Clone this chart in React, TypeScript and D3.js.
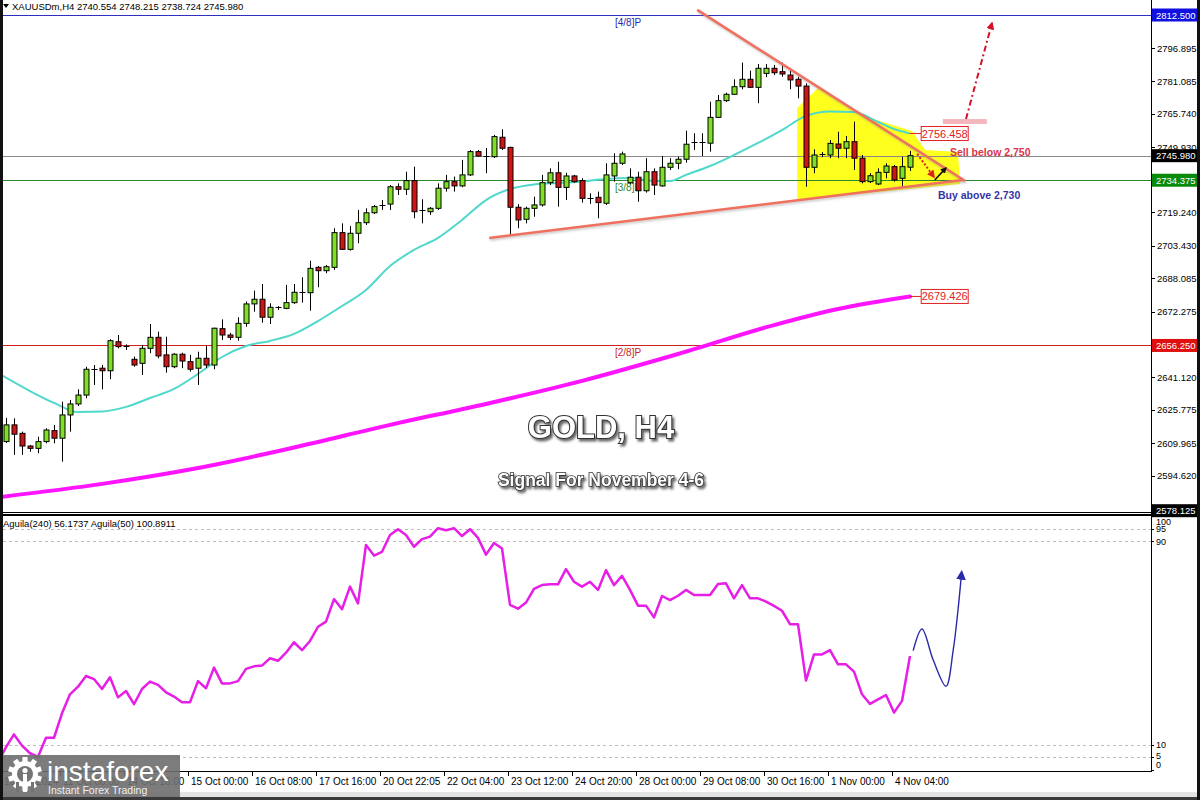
import React from 'react';
import * as d3 from 'd3';

// ---------- DATA ----------
const opens = [2610.8,2618.7,2614.7,2608.7,2607.6,2610.8,2616.0,2612.4,2623.4,2628.6,2632.8,2645.0,2645.5,2644.3,2658.0,2655.7,2649.7,2647.8,2654.9,2660.1,2651.8,2646.2,2652.1,2648.6,2645.5,2650.2,2647.0,2664.2,2661.2,2660.1,2666.7,2675.9,2678.1,2669.6,2674.3,2673.8,2676.5,2681.4,2681.2,2693.2,2691.6,2693.2,2709.6,2701.7,2709.3,2714.3,2719.0,2722.5,2723.1,2731.3,2730.1,2734.2,2720.0,2719.5,2721.1,2730.6,2733.7,2731.7,2736.9,2747.9,2745.8,2745.5,2754.7,2749.9,2721.6,2715.9,2721.1,2722.7,2733.2,2737.9,2731.0,2736.4,2734.2,2726.1,2726.3,2723.5,2736.4,2742.4,2733.2,2735.8,2729.4,2738.4,2731.7,2740.5,2742.4,2744.3,2752.2,2752.5,2751.9,2764.1,2772.0,2775.0,2778.6,2782.1,2778.3,2784.9,2787.3,2785.7,2784.1,2782.1,2778.9,2740.5,2746.5,2746.3,2751.5,2749.5,2752.6,2744.8,2733.7,2732.6,2738.1,2740.8,2735.3,2740.554];
const highs = [2622.0,2621.8,2615.5,2609.2,2613.1,2617.1,2618.7,2629.7,2630.5,2635.5,2646.2,2647.0,2647.0,2659.2,2661.2,2656.8,2651.0,2656.5,2666.4,2662.8,2660.4,2652.6,2652.8,2651.8,2653.3,2656.0,2664.7,2668.6,2662.2,2669.6,2677.0,2682.2,2685.3,2676.2,2674.9,2684.9,2685.3,2688.5,2696.3,2693.8,2694.3,2711.7,2714.0,2712.7,2720.3,2721.1,2722.7,2725.0,2732.1,2732.9,2738.4,2740.8,2725.4,2721.7,2732.9,2736.9,2736.1,2744.0,2748.7,2748.7,2749.6,2755.8,2758.5,2750.2,2723.1,2721.9,2726.6,2736.9,2740.0,2743.1,2737.9,2736.9,2735.3,2728.2,2729.0,2742.4,2747.1,2747.9,2740.0,2738.4,2744.8,2740.0,2745.8,2744.8,2745.5,2757.8,2756.6,2756.6,2771.5,2774.7,2775.8,2782.1,2790.0,2786.2,2789.3,2789.3,2788.9,2790.0,2786.5,2783.3,2780.2,2749.0,2747.7,2753.4,2757.3,2755.3,2762.1,2746.3,2737.7,2740.0,2742.4,2741.6,2745.5,2748.215];
const lows = [2610.1,2604.5,2604.5,2606.0,2605.3,2610.0,2610.0,2601.3,2615.5,2627.6,2631.3,2637.6,2635.5,2640.3,2654.9,2654.1,2646.2,2642.3,2652.6,2650.2,2643.4,2645.5,2645.5,2643.9,2637.6,2645.5,2645.0,2658.8,2658.8,2658.5,2665.1,2672.2,2667.0,2666.4,2673.0,2673.4,2675.9,2676.5,2672.7,2683.8,2690.4,2692.0,2701.4,2701.1,2704.6,2713.2,2718.4,2720.3,2720.3,2727.4,2727.4,2716.4,2714.0,2718.0,2720.3,2729.0,2729.0,2731.1,2736.4,2745.5,2737.7,2744.9,2748.7,2708.5,2711.7,2714.0,2717.1,2721.9,2732.1,2721.9,2725.0,2733.2,2723.8,2723.2,2716.4,2722.7,2733.7,2741.6,2732.5,2724.2,2728.5,2727.4,2731.3,2739.2,2739.6,2742.7,2748.7,2745.8,2747.9,2763.8,2771.4,2774.7,2777.4,2778.0,2770.8,2783.1,2784.1,2783.3,2777.4,2773.1,2731.3,2737.7,2745.3,2744.8,2744.8,2744.8,2739.2,2732.9,2733.1,2732.1,2735.3,2733.7,2731.3,2738.724];
const closes = [2618.7,2614.3,2608.7,2607.6,2610.8,2616.3,2612.4,2623.4,2628.6,2632.8,2645.0,2645.2,2644.3,2658.5,2655.7,2656.2,2647.0,2654.9,2660.1,2651.3,2646.2,2652.1,2648.9,2645.0,2650.2,2647.0,2664.4,2661.2,2660.1,2666.7,2675.9,2678.1,2669.6,2674.3,2674.0,2676.5,2681.4,2681.2,2692.7,2691.6,2693.5,2709.6,2701.7,2709.3,2714.3,2719.0,2721.9,2722.7,2731.3,2730.1,2734.2,2719.5,2720.2,2721.1,2730.6,2733.7,2731.7,2736.9,2747.9,2745.8,2745.6,2755.0,2749.5,2721.6,2715.6,2721.1,2722.7,2733.2,2737.9,2731.0,2736.4,2733.7,2725.8,2726.0,2723.8,2736.9,2742.4,2746.8,2735.8,2729.4,2738.4,2732.1,2740.5,2742.4,2744.3,2751.4,2752.5,2752.2,2764.1,2772.0,2775.0,2778.6,2782.1,2778.3,2787.3,2787.3,2785.2,2784.6,2781.8,2778.9,2740.5,2746.3,2746.7,2751.8,2749.5,2752.6,2744.8,2733.7,2736.5,2738.1,2741.1,2734.5,2740.8,2745.980];

// moving averages (sampled at bar indices)
const cyanIdx = [-0.4,3,6,9,12,15,18,21,24,27,30,33,36,39,42,45,48,51,54,57,60,63,66,69,72,75,78,81,83,85,88,91,94,97,100,103,106,109,111,113];
const cyanVal = [2641.9,2634.7,2629.1,2624.8,2625.0,2627.2,2631.4,2635.7,2642.8,2650.8,2656.0,2658.4,2661.7,2667.8,2674.9,2682.5,2693.8,2701.4,2707.1,2715.6,2725.0,2730.2,2732.4,2733.1,2733.8,2735.0,2735.4,2734.0,2734.0,2736.9,2741.1,2746.3,2752.0,2758.1,2764.8,2766.9,2766.6,2761.9,2758.6,2756.458];
const magIdx = [-0.75,12,24,36,48,60,72,84,96,104,113];
const magVal = [2584.6,2590.8,2598.3,2608.0,2618.7,2628.6,2639.5,2652.2,2665.9,2673.5,2679.426];

// indicator (bar -1 .. 113)
const indStart = -1;
const indVal = [3.0,9.0,14.0,9.6,6.6,5.2,12.7,12.7,22.3,29.8,32.8,37.0,35.8,31.9,36.5,28.6,31.1,25.9,31.9,34.8,33.5,30.6,28.9,26.7,26.7,35.0,32.2,40.3,34.1,34.1,35.0,39.8,40.8,41.1,44.0,43.0,46.2,50.3,47.2,50.8,56.4,58.4,67.3,63.3,72.2,65.6,88.6,84.4,85.9,92.5,94.8,92.5,87.9,90.9,91.9,95.2,94.4,95.2,92.1,94.8,91.4,84.8,89.4,87.2,65.0,63.5,65.9,71.3,72.8,73.1,73.1,79.1,74.1,72.2,74.1,70.9,78.7,72.8,76.4,70.9,64.7,64.7,60.1,68.5,66.9,68.6,70.9,68.9,68.9,68.9,73.2,73.5,67.6,72.8,67.6,67.6,66.3,64.6,62.7,57.4,57.4,35.2,45.5,45.5,47.2,41.6,41.6,38.7,29.8,26.0,27.8,29.5,22.6,27.2,44.9];
const indLevels = [95, 90, 10, 5];
const indTickVals = [100, 95, 90, 10, 5, 0];

// price axis
const priceTicks = [2796.895,2781.085,2765.740,2749.930,2719.240,2703.430,2688.085,2672.275,2641.120,2625.775,2609.965,2594.620];
const levelPrices = [2812.5, 2745.98, 2734.375, 2656.25, 2578.125];
const levelLabels = ['2812.500','2745.980','2734.375','2656.250','2578.125'];
const levelColors = ['#1010e0','#000000','#0a8a0a','#e01010','#000000'];
const lineColors = ['#3030c0','#8a8a8a','#2a8a2a','#d02020', null];
const murrayLabels = [['[4/8]P',2812.5,'#2828b0'],['[3/8]P',2734.375,'#2a8a2a'],['[2/8]P',2656.25,'#d02020']];

// time axis
const timeIdx = [-1,7,15,23,31,39,47,55,63,71,79,87,95,103,111];
const timeLbl = ['10 Oct 2024','11 Oct 08:00','14 Oct 16:00','15 Oct 00:00','16 Oct 08:00','17 Oct 16:00','20 Oct 22:05','22 Oct 04:00','23 Oct 12:00','24 Oct 20:00','28 Oct 00:00','29 Oct 08:00','30 Oct 16:00','1 Nov 00:00','4 Nov 04:00'];

// annotations (bar index, price)
const upperTL = [[86.4, 2814.9],[119.9, 2734.0]];
const lowerTL = [[60.4, 2707.1],[119.6, 2734.5]];
const yellowPoly = [[98.9,2725.0],[98.9,2768.5],[101.5,2778.0],[106.75,2765.2],[113.25,2757.7],[114.9,2748.7],[119.0,2747.7],[119.25,2732.6],[116.75,2731.7]];
const redDotArrow = [[113.9,2746.8],[116.0,2735.9]];
const blackArrow = [[116.1,2734.5],[117.5,2740.2]];
const dashDotArrow = [[120.0,2763.3],[123.25,2808.7]];
const pinkRect = [[117.1,2763.3],[122.6,2761.0]];
const blueWaveIdx = [113.4,114.5,115.9,117.5,118.4,119.0,119.46];
const blueWaveVal = [47,55.5,43.3,33,47.2,63,78];

const F = "'Liberation Sans', Arial, sans-serif";

export default function App() {
  React.useEffect(() => { document.body.style.margin = '0'; }, []);

  const x = d3.scaleLinear().domain([0, 113]).range([6, 910]);
  const yP = d3.scaleLinear().domain([2578.125, 2812.5]).range([510.7, 15]);
  const yI = d3.scaleLinear().domain([0, 100]).range([770, 516]);

  const cyanPath = d3.line<number>().x((_, i) => x(cyanIdx[i])).y(d => yP(d)).curve(d3.curveMonotoneX)(cyanVal) || '';
  const magPath = d3.line<number>().x((_, i) => x(magIdx[i])).y(d => yP(d)).curve(d3.curveMonotoneX)(magVal) || '';
  const indPath = d3.line<number>().x((_, i) => x(indStart + i)).y(d => yI(d))(indVal) || '';
  const bluePath = d3.line<number>().x((_, i) => x(blueWaveIdx[i])).y(d => yI(d)).curve(d3.curveCatmullRom)(blueWaveVal) || '';
  const ptP = (p: number[]) => [x(p[0]), yP(p[1])];
  const yellowStr = yellowPoly.map(p => ptP(p).join(',')).join(' ');

  const candles = opens.map((o, i) => {
    const c = closes[i], h = highs[i], l = lows[i];
    const cx = Math.round(x(i)) + 0.5;
    const top = yP(Math.max(o, c)), bot = yP(Math.min(o, c));
    const bull = c >= o;
    const doji = bot - top < 1.5;
    return (
      <g key={i}>
        <line x1={cx} x2={cx} y1={yP(h)} y2={yP(l)} stroke="#000" strokeWidth={1} />
        {doji
          ? <line x1={cx - 3} x2={cx + 3} y1={Math.round(top) + 0.5} y2={Math.round(top) + 0.5} stroke="#000" strokeWidth={1} />
          : <rect x={cx - 2.5} y={top} width={5} height={bot - top} fill={bull ? '#7ee024' : '#d01414'} stroke="#000" strokeWidth={1} />}
      </g>
    );
  });

  const cyanEnd = [x(113), yP(2756.458)];
  const magEnd = [x(113), yP(2679.426)];

  return (
    <svg width={1200} height={800} style={{ position: 'fixed', left: 0, top: 0, background: '#fff' }} fontFamily={F}>
      <defs>
        <clipPath id="mainClip"><rect x={3} y={0} width={1148} height={512} /></clipPath>
        <clipPath id="indClip"><rect x={3} y={516} width={1148} height={255} /></clipPath>
        <filter id="txtShadow" x="-20%" y="-40%" width="140%" height="180%">
          <feDropShadow dx="2" dy="2.5" stdDeviation="1.2" floodColor="#444" floodOpacity="0.8" />
        </filter>
        <filter id="soft" x="-5%" y="-20%" width="110%" height="140%">
          <feDropShadow dx="1" dy="1.5" stdDeviation="1" floodColor="#888" floodOpacity="0.5" />
        </filter>
        <marker id="mRed" viewBox="0 0 10 10" refX="8" refY="5" markerWidth="4" markerHeight="4" orient="auto">
          <path d="M0,0 L10,5 L0,10 z" fill="#e02020" />
        </marker>
        <marker id="mBlack" viewBox="0 0 10 10" refX="8" refY="5" markerWidth="4" markerHeight="4" orient="auto">
          <path d="M0,0 L10,5 L0,10 z" fill="#111" />
        </marker>
        <marker id="mRed2" viewBox="0 0 10 10" refX="8" refY="5" markerWidth="4" markerHeight="4" orient="auto">
          <path d="M0,0 L10,5 L0,10 z" fill="#d41028" />
        </marker>
        <marker id="mBlue" viewBox="0 0 10 10" refX="8" refY="5" markerWidth="7" markerHeight="7" orient="auto">
          <path d="M0,0 L10,5 L0,10 z" fill="#2a2aa8" />
        </marker>
      </defs>

      <rect x={0} y={0} width={1200} height={800} fill="#fff" />

      {/* ---------- MAIN PANEL ---------- */}
      <g clipPath="url(#mainClip)">
        <polygon points={yellowStr} fill="#ffff1e" />
        {levelPrices.map((p, i) => lineColors[i] ? (
          <line key={i} x1={3} x2={1151} y1={Math.round(yP(p)) + 0.5} y2={Math.round(yP(p)) + 0.5} stroke={lineColors[i] as string} strokeWidth={1} />
        ) : null)}
        {murrayLabels.map(([t, p, c], i) => (
          <text key={i} x={615} y={yP(p as number) + 11} fontSize={10} fill={c as string}>{t}</text>
        ))}
        <path d={magPath} fill="none" stroke="#ff14ff" strokeWidth={4} strokeLinecap="round" />
        <path d={cyanPath} fill="none" stroke="#4fd8cc" strokeWidth={2} />
        {candles}
        <line x1={ptP(upperTL[0])[0]} y1={ptP(upperTL[0])[1]} x2={ptP(upperTL[1])[0]} y2={ptP(upperTL[1])[1]} stroke="#f0705e" strokeWidth={2.5} filter="url(#soft)" />
        <line x1={ptP(lowerTL[0])[0]} y1={ptP(lowerTL[0])[1]} x2={ptP(lowerTL[1])[0]} y2={ptP(lowerTL[1])[1]} stroke="#f0705e" strokeWidth={2.5} filter="url(#soft)" />
        <line x1={ptP(redDotArrow[0])[0]} y1={ptP(redDotArrow[0])[1]} x2={ptP(redDotArrow[1])[0]} y2={ptP(redDotArrow[1])[1]} stroke="#e02020" strokeWidth={2} strokeDasharray="2,2" markerEnd="url(#mRed)" />
        <line x1={ptP(blackArrow[0])[0]} y1={ptP(blackArrow[0])[1]} x2={ptP(blackArrow[1])[0]} y2={ptP(blackArrow[1])[1]} stroke="#111" strokeWidth={1.6} markerEnd="url(#mBlack)" />
        <rect x={ptP(pinkRect[0])[0]} y={ptP(pinkRect[0])[1]} width={ptP(pinkRect[1])[0] - ptP(pinkRect[0])[0]} height={ptP(pinkRect[1])[1] - ptP(pinkRect[0])[1]} fill="#f4b4bc" />
        <line x1={ptP(dashDotArrow[0])[0]} y1={ptP(dashDotArrow[0])[1]} x2={ptP(dashDotArrow[1])[0]} y2={ptP(dashDotArrow[1])[1]} stroke="#d41028" strokeWidth={2} strokeDasharray="6,3,2,3" markerEnd="url(#mRed2)" />
        <line x1={cyanEnd[0]} y1={cyanEnd[1]} x2={x(114.4)} y2={cyanEnd[1]} stroke="#e02020" strokeWidth={1} />
        <rect x={x(114.4)} y={cyanEnd[1] - 7} width={47} height={14} fill="#fff" stroke="#e02020" strokeWidth={1} />
        <text x={x(114.4) + 23.5} y={cyanEnd[1] + 4} fontSize={11} fill="#e02020" textAnchor="middle">2756.458</text>
        <line x1={magEnd[0]} y1={magEnd[1]} x2={x(114.4)} y2={magEnd[1]} stroke="#e02020" strokeWidth={1} />
        <rect x={x(114.4)} y={magEnd[1] - 7} width={47} height={14} fill="#fff" stroke="#e02020" strokeWidth={1} />
        <text x={x(114.4) + 23.5} y={magEnd[1] + 4} fontSize={11} fill="#e02020" textAnchor="middle">2679.426</text>
        <text x={950} y={yP(2745.8)} fontSize={10.5} fontWeight="bold" fill="#d8344c">Sell below 2,750</text>
        <text x={938} y={yP(2725.6)} fontSize={10.5} fontWeight="bold" fill="#3434a8">Buy above 2,730</text>
        <text x={601} y={438} fontSize={31} fontWeight="bold" textAnchor="middle" fill="#fff" stroke="#333" strokeWidth={2} paintOrder="stroke" filter="url(#txtShadow)">GOLD, H4</text>
        <text x={601} y={486} fontSize={17.5} fontWeight="bold" textAnchor="middle" fill="#fff" stroke="#333" strokeWidth={1.6} paintOrder="stroke" filter="url(#txtShadow)">Signal For November 4-6</text>
      </g>

      {/* header */}
      <polygon points="3,4 9,4 6,8" fill="#000" />
      <text x={12} y={10} fontSize={9.5} fill="#000">XAUUSDm,H4  2740.554 2748.215 2738.724 2745.980</text>

      {/* separator */}
      <line x1={3} x2={1151} y1={512.5} y2={512.5} stroke="#000" strokeWidth={1} />
      <line x1={3} x2={1151} y1={515} y2={515} stroke="#000" strokeWidth={2} />

      {/* ---------- INDICATOR PANEL ---------- */}
      {indLevels.map(v => (
        <line key={v} x1={3} x2={1151} y1={Math.round(yI(v)) + 0.5} y2={Math.round(yI(v)) + 0.5} stroke="#bdbdbd" strokeWidth={1} strokeDasharray="3,3" />
      ))}
      <g clipPath="url(#indClip)">
        <path d={indPath} fill="none" stroke="#e61ee6" strokeWidth={2.5} strokeLinejoin="round" />
        <path d={bluePath} fill="none" stroke="#2a2aa8" strokeWidth={1.4} markerEnd="url(#mBlue)" />
      </g>
      <text x={3} y={527} fontSize={9.5} fill="#000">Aguila(240) 56.1737  Aguila(50) 100.8911</text>
      <line x1={3} x2={1151} y1={771.5} y2={771.5} stroke="#000" strokeWidth={1} />

      {/* ---------- RIGHT AXIS ---------- */}
      <rect x={1151} y={0} width={49} height={772} fill="#fff" />
      <line x1={1151.5} x2={1151.5} y1={0} y2={772} stroke="#000" strokeWidth={1} />
      {priceTicks.map(p => (
        <g key={p}>
          <line x1={1151} x2={1155} y1={Math.round(yP(p)) + 0.5} y2={Math.round(yP(p)) + 0.5} stroke="#000" />
          <text x={1157} y={yP(p) + 3.5} fontSize={9.5} fill="#000">{p.toFixed(3)}</text>
        </g>
      ))}
      {levelPrices.map((p, i) => (
        <g key={'l' + i}>
          <rect x={1152} y={yP(p) - 6.5} width={45} height={13} fill={levelColors[i]} />
          <text x={1156} y={yP(p) + 3.5} fontSize={9.5} fill="#fff">{levelLabels[i]}</text>
        </g>
      ))}
      {indTickVals.map(v => {
        const off = v === 100 ? 5 : v === 0 ? -6 : v === 5 ? -2 : 0;
        return (
          <g key={'i' + v}>
            <line x1={1151} x2={1154} y1={Math.round(yI(v)) + 0.5} y2={Math.round(yI(v)) + 0.5} stroke="#000" />
            <text x={1156} y={yI(v) + off + 3.5} fontSize={9} fill="#000">{v}</text>
          </g>
        );
      })}

      {/* ---------- TIME AXIS ---------- */}
      <rect x={3} y={772} width={1148} height={20} fill="#fff" />
      {timeIdx.map((t, i) => (
        <g key={'t' + i}>
          <line x1={Math.round(x(t)) - 1.5} x2={Math.round(x(t)) - 1.5} y1={772} y2={776} stroke="#000" />
          <text x={Math.max(4, x(t) + 1)} y={785} fontSize={10} fill="#000">{timeLbl[i]}</text>
        </g>
      ))}
      <rect x={0} y={792} width={1200} height={5} fill="#e4e4e4" />
      <rect x={0} y={797} width={1200} height={3} fill="#3a3a3a" />

      {/* borders */}
      <rect x={0} y={0} width={3} height={800} fill="#111" />
      <rect x={1197} y={0} width={3} height={800} fill="#111" />

      {/* ---------- LOGO ---------- */}
      <rect x={3} y={755} width={177} height={42} fill="#6e6e6e" fillOpacity={0.9} />
      <g transform="translate(25,774)" fill="#fff">
        {d3.range(10).map(k => (
          <rect key={k} x={-2.6} y={-17} width={5.2} height={6} transform={`rotate(${k * 36})`} />
        ))}
        <circle r={13} fill="#fff" />
        <circle r={8} fill="#747474" />
        <circle cx={0} cy={-3.5} r={2.6} fill="#fff" />
        <rect x={-2} y={0} width={4} height={18} fill="#fff" />
        <rect x={-9} y={8} width={3} height={10} fill="#747474" />
        <rect x={6} y={8} width={3} height={10} fill="#747474" />
      </g>
      <text x={47} y={781} fontSize={28} fill="#fff">instaforex</text>
      <text x={48} y={794} fontSize={10.5} fill="#f0f0f0">Instant Forex Trading</text>
    </svg>
  );
}
